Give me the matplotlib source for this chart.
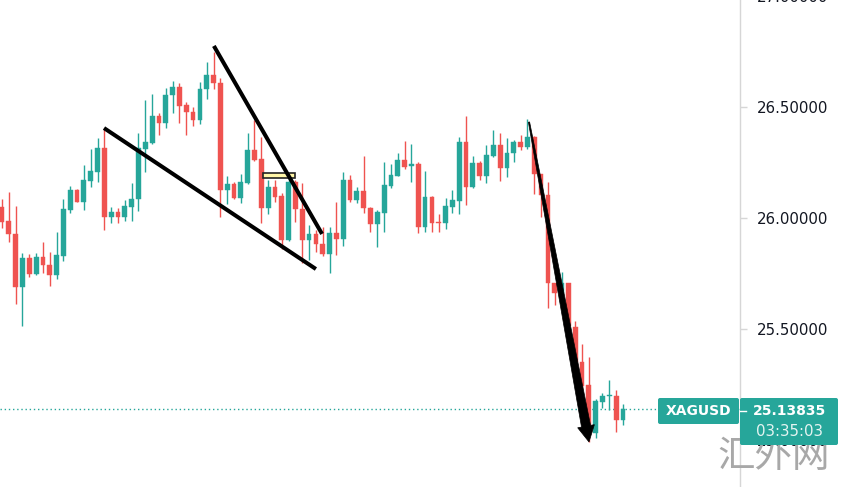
import numpy as np
import matplotlib
matplotlib.use("Agg")
import matplotlib.pyplot as plt
from matplotlib.patches import Polygon, Rectangle, FancyBboxPatch
from matplotlib.transforms import IdentityTransform

# ---------------- data ----------------
opens = [26.050, 25.986, 25.928, 25.689, 25.820, 25.748, 25.824, 25.788, 25.743, 25.829,
         26.036, 26.126, 26.072, 26.167, 26.207, 26.315, 26.005, 26.027, 26.005, 26.050,
         26.086, 26.311, 26.338, 26.459, 26.428, 26.554, 26.590, 26.509, 26.477, 26.441,
         26.581, 26.644, 26.608, 26.126, 26.153, 26.090, 26.158, 26.306, 26.266, 26.045,
         26.140, 26.099, 25.901, 26.162, 26.041, 25.901, 25.928, 25.883, 25.838, 25.932,
         25.905, 26.171, 26.081, 26.122, 26.045, 25.973, 26.023, 26.144, 26.189, 26.261,
         26.234, 26.243, 25.959, 26.095, 25.982, 25.977, 26.050, 26.077, 26.342, 26.140,
         26.248, 26.189, 26.279, 26.329, 26.225, 26.293, 26.342, 26.320, 26.365, 26.198,
         26.104, 25.707, 25.662, 25.707, 25.509, 25.351, 25.248, 25.032, 25.171, 25.196,
         25.198, 25.090]
highs = [26.086, 26.117, 26.054, 25.842, 25.838, 25.842, 25.892, 25.847, 25.937, 26.086,
         26.144, 26.131, 26.239, 26.311, 26.360, 26.405, 26.050, 26.045, 26.081, 26.158,
         26.383, 26.532, 26.559, 26.473, 26.586, 26.617, 26.608, 26.523, 26.500, 26.613,
         26.703, 26.748, 26.631, 26.189, 26.162, 26.198, 26.383, 26.441, 26.365, 26.171,
         26.171, 26.113, 26.180, 26.171, 26.158, 25.968, 25.946, 25.959, 25.959, 26.072,
         26.207, 26.194, 26.140, 26.279, 26.050, 26.036, 26.252, 26.243, 26.293, 26.347,
         26.333, 26.252, 26.212, 26.099, 26.018, 26.090, 26.126, 26.365, 26.459, 26.279,
         26.257, 26.329, 26.396, 26.383, 26.360, 26.351, 26.374, 26.446, 26.369, 26.200,
         26.162, 25.709, 25.757, 25.709, 25.536, 25.432, 25.374, 25.185, 25.212, 25.270,
         25.225, 25.162]
lows = [25.955, 25.892, 25.613, 25.514, 25.734, 25.745, 25.752, 25.694, 25.725, 25.806,
        26.023, 26.070, 26.036, 26.140, 26.162, 25.946, 25.977, 25.977, 25.986, 25.986,
        26.032, 26.207, 26.335, 26.374, 26.405, 26.473, 26.428, 26.374, 26.414, 26.423,
        26.536, 26.581, 26.005, 26.063, 26.086, 26.068, 26.153, 26.257, 25.977, 26.018,
        26.072, 25.860, 25.896, 25.982, 25.797, 25.811, 25.847, 25.829, 25.752, 25.833,
        25.874, 26.072, 26.068, 26.023, 25.937, 25.869, 25.937, 26.135, 26.187, 26.221,
        26.162, 25.932, 25.937, 25.937, 25.937, 25.950, 26.023, 26.018, 26.059, 26.135,
        26.171, 26.158, 26.275, 26.167, 26.185, 26.252, 26.306, 26.311, 26.108, 26.005,
        25.595, 25.608, 25.631, 25.495, 25.315, 25.203, 24.991, 25.009, 25.144, 25.135,
        25.036, 25.068]
closes = [25.982, 25.928, 25.689, 25.820, 25.748, 25.824, 25.788, 25.743, 25.833, 26.041,
          26.126, 26.072, 26.171, 26.212, 26.315, 26.005, 26.027, 26.005, 26.054, 26.086,
          26.315, 26.342, 26.459, 26.428, 26.554, 26.590, 26.505, 26.477, 26.441, 26.581,
          26.644, 26.608, 26.126, 26.153, 26.090, 26.162, 26.306, 26.261, 26.045, 26.140,
          26.095, 25.901, 26.162, 26.041, 25.901, 25.928, 25.883, 25.838, 25.932, 25.905,
          26.171, 26.081, 26.122, 26.045, 25.973, 26.027, 26.149, 26.194, 26.261, 26.230,
          26.243, 25.959, 26.095, 25.977, 25.977, 26.054, 26.081, 26.342, 26.140, 26.248,
          26.189, 26.284, 26.329, 26.225, 26.293, 26.342, 26.320, 26.365, 26.198, 26.104,
          25.707, 25.662, 25.707, 25.514, 25.351, 25.243, 25.045, 25.176, 25.198, 25.200,
          25.090, 25.13835]

symbol = "XAGUSD"
last_price = 25.13835
countdown = "03:35:03"
y_ticks = [25.0, 25.5, 26.0, 26.5, 27.0]
watermark = "汇外网"

# drawings (bar index, price)
lower_line = [(14.95, 26.405), (46.0, 25.770)]
upper_line = [(31.05, 26.775), (46.9, 25.928)]
arrow_pts = [(77.23, 26.432), (86.02, 24.991)]
box_x = [38.25, 42.94]
box_y = [26.180, 26.203]

UP = "#26a69a"
DOWN = "#ef5350"

# ---------------- figure ----------------
W, H = 845, 487
fig = plt.figure(figsize=(W / 100, H / 100), dpi=100)
fig.patch.set_facecolor("white")
ax = fig.add_axes([0, 0, 740 / W, 497 / H])
ax.set_facecolor("white")

n = len(opens)
idx = np.arange(n)
o = np.array(opens); c = np.array(closes); hi = np.array(highs); lo = np.array(lows)
col = [UP if cc >= oo else DOWN for oo, cc in zip(o, c)]

ax.vlines(idx, lo, hi, colors=col, linewidth=1.0, zorder=2)
bottoms = np.minimum(o, c)
heights = np.maximum(np.abs(c - o), 0.005)
ax.bar(idx, heights, bottom=bottoms, width=0.7, color=col, edgecolor=col,
       linewidth=0.3, zorder=3)

ax.set_xlim(-0.293, 108.15)
ax.set_ylim(24.788, 27.027)

# last price dotted line
ax.axhline(last_price, color=UP, linestyle=(0, (1, 2)), linewidth=1.0, zorder=1)

# trend lines
for line in (lower_line, upper_line):
    xs, ys = zip(*line)
    ax.plot(xs, ys, color="black", linewidth=2.9, solid_capstyle="butt", zorder=5)

# highlighted box
ax.add_patch(Rectangle((box_x[0], box_y[0]), box_x[1] - box_x[0], box_y[1] - box_y[0],
                       facecolor="#fff6a8", edgecolor="#222222", linewidth=1.2, zorder=4))

# tapered arrow
s = ax.transData.transform(arrow_pts[0])
t = ax.transData.transform(arrow_pts[1])
d = t - s
u = d / np.hypot(*d)
nn = np.array([-u[1], u[0]])
head_len, head_hw = 16, 8.5
b = t - u * head_len
w0, w1 = 0.6, 4.6
verts = [s + nn * w0, b + nn * w1, b + nn * head_hw, t, b - nn * head_hw, b - nn * w1, s - nn * w0]
ax.add_patch(Polygon(verts, closed=True, transform=IdentityTransform(),
                     facecolor="black", edgecolor="black", linewidth=0.5, zorder=6))

# axis styling
for sp in ("left", "top", "bottom"):
    ax.spines[sp].set_visible(False)
ax.spines["right"].set_color("#d6d6d6")
ax.spines["right"].set_linewidth(1.0)
ax.yaxis.tick_right()
ax.set_yticks(y_ticks)
ax.set_yticklabels([f"{v:.5f}" for v in y_ticks])
ax.tick_params(axis="y", length=5, width=1, color="#d6d6d6", pad=7,
               labelsize=10.8, labelcolor="#131722")
ax.set_xticks([])

# watermark
fig.text(774 / W, (H - 457) / H, watermark, family=["Noto Sans CJK SC", "DejaVu Sans"],
         fontsize=27, color="#a8a8a8", weight="light", ha="center", va="center", zorder=2)

# price labels
def px_box(x0, y0, x1, y1, color):
    p = FancyBboxPatch((x0, H - y1), x1 - x0, y1 - y0,
                       boxstyle="round,pad=0,rounding_size=2",
                       transform=IdentityTransform(), facecolor=color,
                       edgecolor=color, linewidth=0, zorder=4)
    fig.add_artist(p)

px_box(658, 398, 739, 424, UP)
px_box(740, 398, 838, 445, UP)
fig.add_artist(plt.Line2D([740, 746], [H - 411, H - 411], transform=IdentityTransform(),
                          color="white", linewidth=1, zorder=5))
fig.text(698.5 / W, (H - 411) / H, symbol, color="white", fontsize=10, weight="bold",
         ha="center", va="center", zorder=6)
fig.text(790 / W, (H - 411) / H, f"{last_price:.5f}", color="white", fontsize=10,
         weight="bold", ha="center", va="center", zorder=6)
fig.text(790 / W, (H - 432) / H, countdown, color="#e4f4f1", fontsize=10.8,
         ha="center", va="center", zorder=6)

fig.savefig("out.png", dpi=100, facecolor="white")
